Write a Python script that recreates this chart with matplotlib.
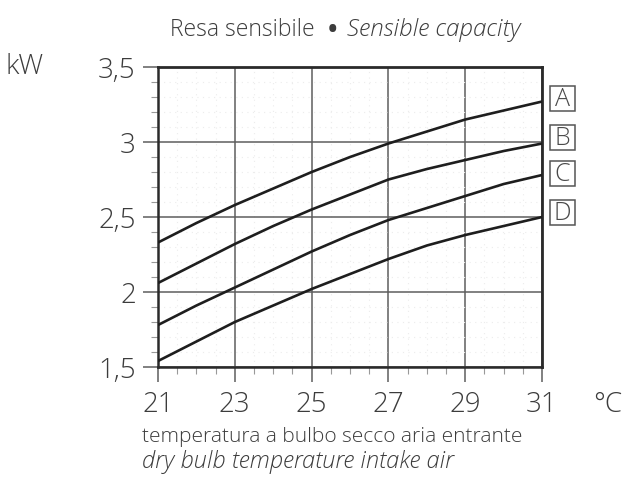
import numpy as np
import matplotlib.pyplot as plt
from matplotlib.patches import Rectangle
from matplotlib.ticker import MultipleLocator, FuncFormatter

plt.rcParams['font.family'] = ['Open Sans', 'DejaVu Sans']
plt.rcParams['font.weight'] = 'light'

# dry bulb temperature of intake air, degC
temp = [21, 22, 23, 24, 25, 26, 27, 28, 29, 30, 31]

# sensible capacity in kW for the four curves
curve_a = [2.33, 2.46, 2.58, 2.69, 2.80, 2.90, 2.99, 3.07, 3.15, 3.21, 3.27]
curve_b = [2.06, 2.19, 2.32, 2.44, 2.55, 2.65, 2.75, 2.82, 2.88, 2.94, 2.99]
curve_c = [1.78, 1.91, 2.03, 2.15, 2.27, 2.38, 2.48, 2.56, 2.64, 2.72, 2.78]
curve_d = [1.54, 1.67, 1.80, 1.91, 2.02, 2.12, 2.22, 2.31, 2.38, 2.44, 2.50]
curve_names = ['A', 'B', 'C', 'D']
label_y = [3.29, 3.03, 2.79, 2.53]

x_ticks = [21, 23, 25, 27, 29, 31]
y_ticks = [1.5, 2, 2.5, 3, 3.5]

TEXT = '#3c3c3c'

fig = plt.figure(figsize=(6.28, 4.84), dpi=100)
ax = fig.add_axes([0.2516, 0.2417, 0.6115, 0.6198])

for vals in (curve_a, curve_b, curve_c, curve_d):
    ax.plot(temp, vals, color='#1e1e1e', lw=1.9, solid_capstyle='butt', zorder=3)

ax.set_xlim(21, 31)
ax.set_ylim(1.5, 3.5)
ax.set_xticks(x_ticks)
ax.set_yticks(y_ticks)
ax.xaxis.set_minor_locator(MultipleLocator(0.5))
ax.yaxis.set_minor_locator(MultipleLocator(0.1))
ax.yaxis.set_major_formatter(FuncFormatter(
    lambda v, p: ('%g' % v).replace('.', ',')))

ax.grid(True, which='major', color='#5e5e5e', lw=1.1, zorder=1)
ax.grid(True, which='minor', color='#ececec', lw=0.8, ls=(0, (1, 4)), zorder=0)

ax.tick_params(which='major', direction='out', length=11, width=1.1,
               color='#5e5e5e', labelcolor=TEXT, labelsize=20, pad=5)
ax.tick_params(axis='x', which='major', pad=6)
ax.tick_params(which='minor', direction='out', length=5, width=0.8,
               color='#999999')

for side in ('left', 'right', 'top', 'bottom'):
    ax.spines[side].set_color('#2a2a2a')
    ax.spines[side].set_linewidth(1.8)
ax.spines['top'].set_linewidth(2.0)
ax.spines['right'].set_linewidth(2.0)

# boxed curve letters to the right of the frame
bw, bh = 0.064, 0.085
for name, yv in zip(curve_names, label_y):
    yc = (yv - 1.5) / 2.0
    ax.add_patch(Rectangle((1.053 - bw / 2, yc - bh / 2), bw, bh,
                           transform=ax.transAxes, fill=False,
                           ec='#555555', lw=1.1, clip_on=False))
    ax.text(1.053, yc - 0.002, name, transform=ax.transAxes,
            ha='center', va='center', fontsize=18, color='#4a4a4a')

fig.text(0.271, 0.938, 'Resa sensibile', ha='left', va='center',
         fontsize=16.5, color=TEXT)
fig.text(0.530, 0.938, '\u2022', ha='center', va='center',
         fontsize=18, color=TEXT, weight='bold')
fig.text(0.553, 0.938, 'Sensible capacity', ha='left', va='center',
         fontsize=17.5, color=TEXT, style='italic')

fig.text(0.008, 0.862, 'kW', ha='left', va='center', fontsize=20, color=TEXT)
fig.text(0.967, 0.163, '\u00b0C', ha='center', va='center',
         fontsize=20, color=TEXT)

fig.text(0.226, 0.097, 'temperatura a bulbo secco aria entrante',
         ha='left', va='center', fontsize=15, color=TEXT)
fig.text(0.226, 0.046, 'dry bulb temperature intake air',
         ha='left', va='center', fontsize=17, color=TEXT, style='italic')

fig.savefig('out.png', dpi=100, facecolor='white')
